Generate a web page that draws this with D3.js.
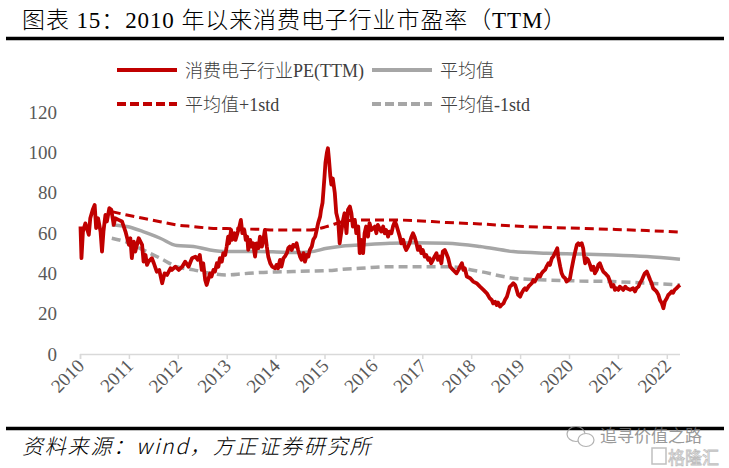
<!DOCTYPE html>
<html><head><meta charset="utf-8">
<script src="https://cdn.jsdelivr.net/npm/d3@7"></script>
<style>html,body{margin:0;padding:0;background:#fff;} svg{display:block;}</style>
</head><body>
<svg id="chart" width="729" height="468"></svg>
<script>
// ---- data (decimal years, PE values) ----
const peDates = [2010.51,2010.53,2010.56,2010.61,2010.68,2010.71,2010.76,2010.80,2010.83,2010.87,2010.92,2010.95,2010.98,2011.02,2011.05,2011.10,2011.14,2011.19,2011.22,2011.29,2011.36,2011.43,2011.50,2011.53,2011.56,2011.60,2011.63,2011.70,2011.77,2011.80,2011.84,2011.87,2011.90,2011.97,2012.01,2012.07,2012.12,2012.18,2012.23,2012.28,2012.35,2012.38,2012.45,2012.52,2012.59,2012.65,2012.72,2012.79,2012.86,2012.91,2012.95,2012.99,2013.02,2013.06,2013.09,2013.12,2013.16,2013.19,2013.23,2013.26,2013.30,2013.33,2013.36,2013.40,2013.43,2013.47,2013.50,2013.53,2013.55,2013.59,2013.61,2013.66,2013.68,2013.72,2013.76,2013.79,2013.82,2013.86,2013.89,2013.92,2013.94,2013.98,2014.01,2014.04,2014.08,2014.11,2014.15,2014.18,2014.22,2014.25,2014.28,2014.32,2014.35,2014.39,2014.43,2014.49,2014.52,2014.55,2014.59,2014.62,2014.66,2014.69,2014.73,2014.76,2014.79,2014.83,2014.86,2014.90,2014.93,2014.96,2015.00,2015.03,2015.07,2015.10,2015.14,2015.17,2015.20,2015.24,2015.27,2015.31,2015.34,2015.37,2015.41,2015.43,2015.46,2015.48,2015.50,2015.52,2015.55,2015.57,2015.59,2015.62,2015.64,2015.67,2015.71,2015.74,2015.78,2015.81,2015.84,2015.88,2015.91,2015.95,2015.98,2016.02,2016.05,2016.08,2016.12,2016.15,2016.19,2016.22,2016.25,2016.29,2016.32,2016.35,2016.39,2016.42,2016.46,2016.53,2016.56,2016.59,2016.66,2016.70,2016.73,2016.76,2016.80,2016.83,2016.87,2016.90,2016.94,2016.97,2017.00,2017.04,2017.07,2017.11,2017.14,2017.17,2017.21,2017.24,2017.28,2017.31,2017.34,2017.38,2017.41,2017.45,2017.48,2017.51,2017.55,2017.58,2017.62,2017.65,2017.68,2017.72,2017.75,2017.79,2017.82,2017.86,2017.89,2017.92,2017.96,2017.99,2018.03,2018.07,2018.13,2018.20,2018.24,2018.27,2018.31,2018.34,2018.37,2018.41,2018.48,2018.54,2018.61,2018.68,2018.75,2018.82,2018.88,2018.92,2018.95,2018.99,2019.02,2019.05,2019.09,2019.12,2019.16,2019.19,2019.23,2019.26,2019.29,2019.33,2019.36,2019.40,2019.43,2019.46,2019.50,2019.53,2019.57,2019.60,2019.63,2019.67,2019.70,2019.74,2019.77,2019.80,2019.84,2019.87,2019.91,2019.94,2019.97,2020.01,2020.04,2020.08,2020.11,2020.15,2020.18,2020.21,2020.23,2020.26,2020.28,2020.32,2020.35,2020.38,2020.42,2020.45,2020.49,2020.52,2020.55,2020.59,2020.62,2020.66,2020.69,2020.72,2020.76,2020.79,2020.81,2020.83,2020.86,2020.89,2020.93,2020.96,2021.00,2021.03,2021.07,2021.10,2021.13,2021.17,2021.20,2021.24,2021.27,2021.30,2021.34,2021.37,2021.41,2021.44,2021.47,2021.51,2021.54,2021.58,2021.61,2021.65,2021.68,2021.75,2021.81,2021.85,2021.88,2021.92,2021.95,2021.99,2022.02,2022.05,2022.09,2022.12,2022.16,2022.19,2022.22,2022.29,2022.33,2022.36,2022.40,2022.43,2022.46,2022.50,2022.53,2022.57,2022.60,2022.63,2022.66,2022.70,2022.73,2022.77];
const peValues = [63.2,47.5,60.7,64.8,59.1,67.3,71.5,73.9,62.4,67.3,60.7,50.8,60.7,69.0,65.7,72.3,71.5,64.0,67.3,66.5,65.7,60.7,54.1,57.4,47.5,55.7,50.8,57.4,54.1,45.8,49.1,44.2,45.8,47.5,45.0,40.8,41.7,35.1,40.0,39.2,42.5,41.7,43.3,41.7,43.3,45.8,43.3,47.5,48.3,46.7,49.1,41.7,45.0,36.7,34.2,36.7,40.0,38.4,41.7,40.9,45.0,43.3,47.5,45.8,50.0,49.1,53.3,58.2,54.9,61.5,56.6,59.9,56.6,59.9,63.2,66.5,59.9,61.5,56.6,58.2,51.6,56.6,53.3,54.9,48.3,54.9,52.5,58.2,53.3,56.6,61.5,53.3,48.3,45.0,43.3,42.5,44.2,42.5,46.7,43.3,47.5,48.3,50.0,52.5,53.3,51.6,54.1,53.3,54.9,51.6,48.3,46.7,50.0,45.8,49.1,48.3,51.6,53.3,56.6,58.2,61.5,64.9,68.1,71.5,75.0,81.4,88.0,95.0,100.0,102.0,97.0,88.0,84.0,87.0,80.0,70.0,66.0,54.9,59.9,66.5,69.8,59.9,71.5,73.1,69.8,63.2,66.5,59.9,63.2,50.0,56.6,50.0,59.9,63.2,58.2,64.9,61.5,63.2,59.9,64.0,60.7,63.2,59.9,61.5,58.2,60.7,59.9,63.2,65.7,64.0,61.5,58.2,54.9,56.6,53.3,51.6,53.3,54.9,58.2,59.9,58.2,54.9,51.6,53.3,50.0,51.6,48.3,49.1,46.7,47.5,45.0,46.7,48.3,50.0,46.7,48.3,45.0,50.8,51.6,49.9,47.5,43.3,41.7,40.0,41.7,43.3,45.0,41.7,42.5,38.4,37.6,35.9,35.1,33.4,31.8,30.1,27.6,26.8,25.1,25.9,24.3,25.5,23.5,24.3,25.1,26.8,28.4,30.9,33.4,34.2,35.1,34.2,31.8,29.3,28.4,30.1,31.8,32.6,31.8,33.4,34.2,35.1,36.7,35.9,37.6,39.2,38.4,40.0,40.9,41.7,43.3,45.0,44.2,47.5,48.3,50.0,50.8,52.4,48.3,43.3,40.0,38.4,37.6,35.9,36.7,37.5,41.7,46.7,50.0,54.1,54.9,54.1,54.9,52.4,48.3,45.0,47.5,46.7,44.2,41.7,43.3,40.0,41.7,44.2,45.0,42.5,40.9,40.0,39.2,38.4,35.9,33.4,34.2,31.8,32.6,31.8,33.4,32.6,31.8,33.4,32.6,31.8,32.6,31.0,32.6,33.4,35.1,36.7,38.4,40.0,40.9,39.2,36.7,35.1,32.6,31.0,29.3,26.8,25.1,22.7,26.0,27.6,29.3,30.1,31.0,30.4,31.8,32.6,33.4,34.2];

const bandDates  = [2011.15,2011.46,2011.79,2012.14,2012.48,2012.82,2013.16,2013.50,2013.84,2014.18,2014.52,2014.86,2015.20,2015.55,2015.88,2016.23,2016.84,2017.31,2018.00,2018.68,2019.36,2020.04,2020.72,2021.40,2022.09,2022.77];
const meanValues = [64.0,63.2,60.7,57.4,53.8,53.3,51.6,50.8,50.8,50.8,50.6,50.3,50.6,52.4,53.6,54.1,54.9,55.2,54.9,53.3,50.8,50.0,49.6,49.1,48.3,47.0];
const upperValues= [70.6,68.9,67.3,65.6,64.0,63.2,62.4,62.2,62.0,61.8,61.5,61.5,61.5,63.2,65.7,66.5,66.5,66.2,65.2,64.5,63.5,62.8,62.3,61.8,61.2,60.4];
const lowerValues= [57.4,55.4,51.6,47.5,43.3,41.7,40.0,39.2,39.8,40.4,40.7,40.9,41.1,41.3,42.0,42.5,43.3,43.3,43.3,40.9,37.6,36.7,36.2,35.9,35.1,34.2];

const yTickValues = [0,20,40,60,80,100,120];
const xTickValues = [2010.5,2011.5,2012.5,2013.5,2014.5,2015.5,2016.5,2017.5,2018.5,2019.5,2020.5,2021.5,2022.5];
const xTickLabels = ["2010","2011","2012","2013","2014","2015","2016","2017","2018","2019","2020","2021","2022"];
const seriesNames = ["消费电子行业PE(TTM)","平均值","平均值+1std","平均值-1std"];
const titleText = "图表 15：2010 年以来消费电子行业市盈率（TTM）";
const sourceText = "资料来源：wind，方正证券研究所";

// ---- drawing ----
const RED = "#C00000", GRAY = "#A6A6A6";
const SERIF = "'Liberation Serif','Times New Roman','Noto Sans CJK SC',serif";
const svg = d3.select("#chart");
svg.append("rect").attr("width",729).attr("height",468).attr("fill","#fff");

// title
svg.append("text").attr("x",22).attr("y",28).attr("font-family",SERIF)
  .attr("font-size",23).attr("font-weight",300).attr("letter-spacing",0.9)
  .attr("fill","#000").text(titleText);
svg.append("line").attr("x1",6).attr("x2",724).attr("y1",38.5).attr("y2",38.5)
  .attr("stroke","#000").attr("stroke-width",3.5);

const x = d3.scaleLinear().domain([2010.5, 2022.77]).range([80, 680]);
const y = d3.scaleLinear().domain([0, 120]).range([354, 112]);

// y labels
svg.append("g").selectAll("text").data(yTickValues).join("text")
  .attr("x",57).attr("y",d=>y(d)+6.5).attr("text-anchor","end")
  .attr("font-family",SERIF).attr("font-size",19).attr("fill","#595959").text(d=>d);

// x axis
const xAxis = d3.axisBottom(x).tickValues(xTickValues).tickSize(5)
  .tickFormat((d,i)=>xTickLabels[i]);
const gx = svg.append("g").attr("transform","translate(0,354)").call(xAxis);
gx.select(".domain").attr("stroke","#D9D9D9").attr("stroke-width",1.5)
  .attr("d","M80,0.5H680");
gx.selectAll(".tick line").attr("stroke","#D9D9D9").attr("stroke-width",1.5);
gx.selectAll(".tick text").attr("font-family",SERIF).attr("font-size",19)
  .attr("fill","#595959").attr("text-anchor","end")
  .attr("x",0).attr("y",0).attr("dy",0)
  .attr("transform","translate(5,13) rotate(-45)");
// extra tick at axis start
svg.append("line").attr("x1",80.5).attr("x2",80.5).attr("y1",354).attr("y2",359)
  .attr("stroke","#D9D9D9").attr("stroke-width",1.5);

// lines
const bandLine = vals => d3.line().x((d,i)=>x(bandDates[i])).y((d)=>y(d)).curve(d3.curveMonotoneX)(vals);
svg.append("path").attr("d",bandLine(meanValues)).attr("fill","none")
  .attr("stroke",GRAY).attr("stroke-width",3.5);
svg.append("path").attr("d",bandLine(lowerValues)).attr("fill","none")
  .attr("stroke",GRAY).attr("stroke-width",3.5).attr("stroke-dasharray","9,5");
svg.append("path").attr("d",bandLine(upperValues)).attr("fill","none")
  .attr("stroke",RED).attr("stroke-width",3).attr("stroke-dasharray","9,5");
const peLine = d3.line().x((d,i)=>x(peDates[i])).y(d=>y(d));
svg.append("path").attr("d",peLine(peValues)).attr("fill","none")
  .attr("stroke",RED).attr("stroke-width",3.8).attr("stroke-linejoin","round");

// legend
const legend = [
  {name:seriesNames[0], color:RED,  dash:null, lx:117, ly:70},
  {name:seriesNames[1], color:GRAY, dash:null, lx:372, ly:70},
  {name:seriesNames[2], color:RED,  dash:"9,4", lx:117, ly:104},
  {name:seriesNames[3], color:GRAY, dash:"9,4", lx:372, ly:104}
];
const lg = svg.append("g");
legend.forEach(l=>{
  lg.append("line").attr("x1",l.lx).attr("x2",l.lx+60).attr("y1",l.ly).attr("y2",l.ly)
    .attr("stroke",l.color).attr("stroke-width",4).attr("stroke-dasharray",l.dash);
  lg.append("text").attr("x",l.lx+68).attr("y",l.ly+6.5).attr("font-family",SERIF)
    .attr("font-size",18).attr("font-weight",300).attr("fill","#404040").text(l.name);
});

// footer
svg.append("line").attr("x1",6).attr("x2",724).attr("y1",428.5).attr("y2",428.5)
  .attr("stroke","#000").attr("stroke-width",3.5);
svg.append("text").attr("x",22).attr("y",454).attr("font-family","'Noto Sans CJK SC',sans-serif")
  .attr("font-style","italic").attr("font-size",21).attr("font-weight",300)
  .attr("letter-spacing",1.8).attr("fill","#000").text(sourceText);

// watermark
const wm = svg.append("g").attr("opacity",0.75);
wm.append("ellipse").attr("cx",576).attr("cy",434).attr("rx",9).attr("ry",7.5)
  .attr("fill","none").attr("stroke","#999").attr("stroke-width",1.2);
wm.append("ellipse").attr("cx",586).attr("cy",440).attr("rx",8).attr("ry",6.5)
  .attr("fill","#fff").attr("stroke","#999").attr("stroke-width",1.2);
wm.append("text").attr("x",600).attr("y",442).attr("font-family","'Noto Sans CJK SC',sans-serif")
  .attr("font-size",17).attr("fill","#777").text("追寻价值之路");
wm.append("text").attr("x",668).attr("y",464).attr("font-family","'Noto Sans CJK SC',sans-serif")
  .attr("font-size",17).attr("fill","#fff").attr("stroke","#aaa").attr("stroke-width",0.8).text("格隆汇");
wm.append("rect").attr("x",652).attr("y",448).attr("width",14).attr("height",16)
  .attr("fill","none").attr("stroke","#aaa").attr("stroke-width",1.5);
</script>
</body></html>
